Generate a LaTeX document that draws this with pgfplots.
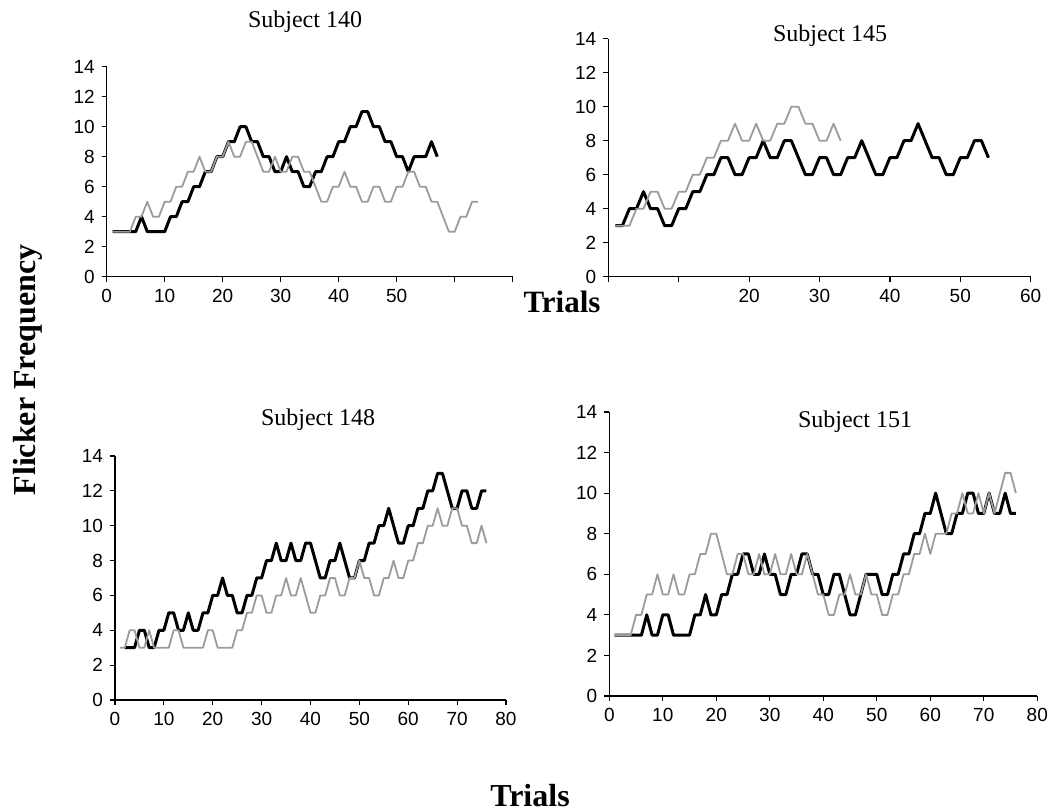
\documentclass[border=0pt]{standalone}
\usepackage{pgfplots}
\pgfplotsset{compat=1.18}
\usepackage{fontspec}
\setmainfont{Liberation Serif}
\setsansfont{Liberation Sans}

\pgfplotsset{
  panel/.style={
    scale only axis, anchor=south west,
    axis x line*=bottom, axis y line*=left,
    ymin=0, ymax=14, ytick={0,2,...,14}, xmin=0,
    tick align=outside, major tick length=2.5pt,
    tick style={black, line width=0.6pt},
    axis line style={black, line width=0.6pt},
    tick label style={font=\sffamily\fontsize{9.5}{11}\selectfont},
    /pgf/number format/assume math mode=true,
    clip=false,
  },
  blk/.style={black, line width=1.5pt, line join=round, no marks},
  gry/.style={color={rgb,255:red,155;green,155;blue,155}, line width=0.9pt, line join=round, no marks},
}

\begin{document}
\begin{tikzpicture}
\path[use as bounding box] (0,0) rectangle (527pt,406pt);

% Subject 140
\begin{axis}[panel, at={(53.35pt,267.65pt)}, width=203pt, height=105pt,
  xmax=70, xtick={0,10,...,70}, xticklabels={0,10,20,30,40,50,,}]
\addplot[blk] coordinates {(1,3)(2,3)(3,3)(4,3)(5,3)(6,4)(7,3)(8,3)(9,3)(10,3)(11,4)(12,4)(13,5)(14,5)(15,6)(16,6)(17,7)(18,7)(19,8)(20,8)(21,9)(22,9)(23,10)(24,10)(25,9)(26,9)(27,8)(28,8)(29,7)(30,7)(31,8)(32,7)(33,7)(34,6)(35,6)(36,7)(37,7)(38,8)(39,8)(40,9)(41,9)(42,10)(43,10)(44,11)(45,11)(46,10)(47,10)(48,9)(49,9)(50,8)(51,8)(52,7)(53,8)(54,8)(55,8)(56,9)(57,8)};
\addplot[gry] coordinates {(1,3)(2,3)(3,3)(4,3)(5,4)(6,4)(7,5)(8,4)(9,4)(10,5)(11,5)(12,6)(13,6)(14,7)(15,7)(16,8)(17,7)(18,7)(19,8)(20,8)(21,9)(22,8)(23,8)(24,9)(25,9)(26,8)(27,7)(28,7)(29,8)(30,7)(31,7)(32,8)(33,8)(34,7)(35,7)(36,6)(37,5)(38,5)(39,6)(40,6)(41,7)(42,6)(43,6)(44,5)(45,5)(46,6)(47,6)(48,5)(49,5)(50,6)(51,6)(52,7)(53,7)(54,6)(55,6)(56,5)(57,5)(58,4)(59,3)(60,3)(61,4)(62,4)(63,5)(64,5)};
\end{axis}

% Subject 145
\begin{axis}[panel, at={(304.15pt,267.65pt)}, width=211.2pt, height=119pt,
  xmax=60, xtick={0,10,...,60}, xticklabels={,,20,30,40,50,60}]
\addplot[blk] coordinates {(1,3)(2,3)(3,4)(4,4)(5,5)(6,4)(7,4)(8,3)(9,3)(10,4)(11,4)(12,5)(13,5)(14,6)(15,6)(16,7)(17,7)(18,6)(19,6)(20,7)(21,7)(22,8)(23,7)(24,7)(25,8)(26,8)(27,7)(28,6)(29,6)(30,7)(31,7)(32,6)(33,6)(34,7)(35,7)(36,8)(37,7)(38,6)(39,6)(40,7)(41,7)(42,8)(43,8)(44,9)(45,8)(46,7)(47,7)(48,6)(49,6)(50,7)(51,7)(52,8)(53,8)(54,7)};
\addplot[gry] coordinates {(1,3)(2,3)(3,3)(4,4)(5,4)(6,5)(7,5)(8,4)(9,4)(10,5)(11,5)(12,6)(13,6)(14,7)(15,7)(16,8)(17,8)(18,9)(19,8)(20,8)(21,9)(22,8)(23,8)(24,9)(25,9)(26,10)(27,10)(28,9)(29,9)(30,8)(31,8)(32,9)(33,8)};
\end{axis}

% Subject 148
\begin{axis}[panel, at={(57.5pt,56pt)}, width=195.5pt, height=122pt,
  xmax=80, xtick={0,10,...,80}]
\addplot[blk] coordinates {(2,3)(3,3)(4,3)(5,4)(6,4)(7,3)(8,3)(9,4)(10,4)(11,5)(12,5)(13,4)(14,4)(15,5)(16,4)(17,4)(18,5)(19,5)(20,6)(21,6)(22,7)(23,6)(24,6)(25,5)(26,5)(27,6)(28,6)(29,7)(30,7)(31,8)(32,8)(33,9)(34,8)(35,8)(36,9)(37,8)(38,8)(39,9)(40,9)(41,8)(42,7)(43,7)(44,8)(45,8)(46,9)(47,8)(48,7)(49,7)(50,8)(51,8)(52,9)(53,9)(54,10)(55,10)(56,11)(57,10)(58,9)(59,9)(60,10)(61,10)(62,11)(63,11)(64,12)(65,12)(66,13)(67,13)(68,12)(69,11)(70,11)(71,12)(72,12)(73,11)(74,11)(75,12)(76,12)};
\addplot[gry] coordinates {(1,3)(2,3)(3,4)(4,4)(5,3)(6,3)(7,4)(8,3)(9,3)(10,3)(11,3)(12,4)(13,4)(14,3)(15,3)(16,3)(17,3)(18,3)(19,4)(20,4)(21,3)(22,3)(23,3)(24,3)(25,4)(26,4)(27,5)(28,5)(29,6)(30,6)(31,5)(32,5)(33,6)(34,6)(35,7)(36,6)(37,6)(38,7)(39,6)(40,5)(41,5)(42,6)(43,6)(44,7)(45,7)(46,6)(47,6)(48,7)(49,7)(50,8)(51,7)(52,7)(53,6)(54,6)(55,7)(56,7)(57,8)(58,7)(59,7)(60,8)(61,8)(62,9)(63,9)(64,10)(65,10)(66,11)(67,10)(68,10)(69,11)(70,11)(71,10)(72,10)(73,9)(74,9)(75,10)(76,9)};
\end{axis}

% Subject 151
\begin{axis}[panel, at={(304.65pt,58pt)}, width=214pt, height=142pt,
  xmax=80, xtick={0,10,...,80}]
\addplot[blk] coordinates {(1,3)(2,3)(3,3)(4,3)(5,3)(6,3)(7,4)(8,3)(9,3)(10,4)(11,4)(12,3)(13,3)(14,3)(15,3)(16,4)(17,4)(18,5)(19,4)(20,4)(21,5)(22,5)(23,6)(24,6)(25,7)(26,7)(27,6)(28,6)(29,7)(30,6)(31,6)(32,5)(33,5)(34,6)(35,6)(36,7)(37,7)(38,6)(39,6)(40,5)(41,5)(42,6)(43,6)(44,5)(45,4)(46,4)(47,5)(48,6)(49,6)(50,6)(51,5)(52,5)(53,6)(54,6)(55,7)(56,7)(57,8)(58,8)(59,9)(60,9)(61,10)(62,9)(63,8)(64,8)(65,9)(66,9)(67,10)(68,10)(69,9)(70,9)(71,10)(72,9)(73,9)(74,10)(75,9)(76,9)};
\addplot[gry] coordinates {(1,3)(2,3)(3,3)(4,3)(5,4)(6,4)(7,5)(8,5)(9,6)(10,5)(11,5)(12,6)(13,5)(14,5)(15,6)(16,6)(17,7)(18,7)(19,8)(20,8)(21,7)(22,6)(23,6)(24,7)(25,7)(26,6)(27,6)(28,7)(29,6)(30,6)(31,7)(32,6)(33,6)(34,7)(35,6)(36,6)(37,7)(38,6)(39,5)(40,5)(41,4)(42,4)(43,5)(44,5)(45,6)(46,5)(47,5)(48,6)(49,5)(50,5)(51,4)(52,4)(53,5)(54,5)(55,6)(56,6)(57,7)(58,7)(59,8)(60,7)(61,8)(62,8)(63,8)(64,9)(65,9)(66,10)(67,9)(68,9)(69,10)(70,9)(71,10)(72,9)(73,10)(74,11)(75,11)(76,10)};
\end{axis}

% panel titles and shared labels
\node[font=\fontsize{12}{14}\selectfont] at (152.5pt,395pt) {Subject 140};
\node[font=\fontsize{12}{14}\selectfont] at (415pt,388pt) {Subject 145};
\node[font=\fontsize{12}{14}\selectfont] at (159pt,196pt) {Subject 148};
\node[font=\fontsize{12}{14}\selectfont] at (427.5pt,195pt) {Subject 151};
\node[font=\bfseries\fontsize{15.5}{18}\selectfont] at (281pt,255pt) {Trials};
\node[font=\bfseries\fontsize{16}{18}\selectfont] at (265pt,8pt) {Trials};
\node[font=\bfseries\fontsize{16}{18}\selectfont, rotate=90] at (14pt,221pt) {Flicker Frequency};
\end{tikzpicture}
\end{document}
